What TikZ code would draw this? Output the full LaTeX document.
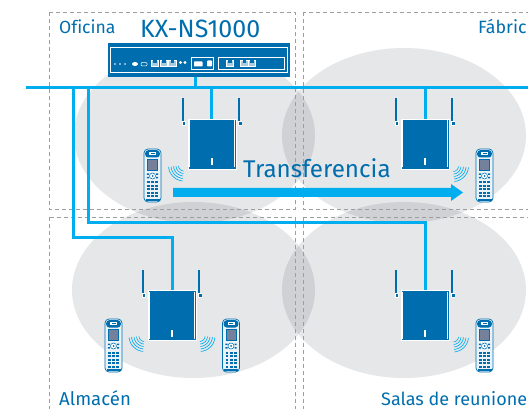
\documentclass[tikz,border=0pt]{standalone}
\usepackage{fontspec}
\setmainfont[RawFeature={-liga}]{Fira Sans}
\definecolor{cblue}{HTML}{006EAE}
\definecolor{csky}{HTML}{00AEEF}
\definecolor{cgrey}{HTML}{E6E7E9}
\definecolor{cdash}{HTML}{9C9EA0}
\definecolor{cscreen}{HTML}{75819B}
\tikzset{
  zone/.style={draw=cdash,line width=0.9pt,dash pattern=on 4pt off 3pt},
  cell/.style={fill=cgrey,blend mode=multiply},
  bus/.style={draw=csky,line width=3pt},
  wire/.style={draw=csky,line width=3pt},
  label/.style={text=cblue,inner sep=0pt,anchor=base west},
  apbox/.style={fill=cblue,draw=white,line width=0.7pt,minimum width=48pt,minimum height=50pt,inner sep=0pt},
  srv/.style={fill=cblue,minimum width=182pt,minimum height=34pt,inner sep=0pt},
  wl/.style={draw=white,line width=0.6pt},
  port/.style={draw=white,line width=0.5pt,fill=cblue!35!white},
  pics/antennas/.style={code={
    \fill[cblue] (-5.8,-21) rectangle (-4.2,2);
    \fill[cblue] (50.2,-21) rectangle (51.8,2);
    \fill[white] (-6.3,2) rectangle (-2,7);
    \fill[cblue] (-5.5,3) rectangle (-3,6);
    \fill[white] (50,2) rectangle (54.3,7);
    \fill[cblue] (51,3) rectangle (53.5,6);
    \draw[white,line width=0.6pt] (1.6,1) -- (1.6,48);
    \draw[white,line width=0.6pt] (46.4,1) -- (46.4,48);
    \fill[white] (23,39) rectangle (25,46);
  }},
  pics/phone/.style={code={
    \draw[cblue,line width=0.7pt,fill=cblue!8!white,rounded corners=4pt] (0,0) rectangle (17,53);
    \fill[cblue,rounded corners=3pt] (1.2,1.2) rectangle (15.8,8.5);
    \fill[white] (5,3) rectangle (12,6.3);
    \fill[cblue] (6.5,4) rectangle (10.5,5.3);
    \draw[cblue,line width=0.5pt,fill=cscreen] (3.5,10.5) rectangle (13.5,21);
    \draw[cblue,line width=0.5pt,fill=white] (8.5,27) circle (3pt);
    \fill[cblue] (8.5,27) circle (1pt);
    \fill[cblue] (2.8,24.5) rectangle (5,26) (12,24.5) rectangle (14.2,26) (2.8,28) rectangle (5,29.5) (12,28) rectangle (14.2,29.5);
    \foreach \ky in {32.5,36,39.5,43,46.5}
      \foreach \kx in {3,7.2,11.4}
        \fill[cblue] (\kx,\ky) rectangle ++(2.8,2);
    \fill[cblue] (1.5,50) rectangle (15.5,52);
  }},
  pics/waves/.style args={#1:#2}{code={
    \foreach \rr in {5.5,8,10.5,13,15.5}
      \draw[csky,line width=0.65pt] plot[domain=#1:#2,samples=12,smooth] ({\rr*cos(\t)},{\rr*sin(\t)});
  }},
}
\begin{document}
\begin{tikzpicture}[x=1pt,y=-1pt,variable=\t]
\useasboundingbox (0,0) rectangle (528,409);
\fill[white] (0,0) rectangle (528,409);
% coverage cells
\begin{scope}[transparency group]
\fill[cell] (194.5,135.5) ellipse [x radius=120.5pt,y radius=87.5pt];
\fill[cell] (404,135.5) ellipse [x radius=122pt,y radius=87.5pt];
\fill[cell] (193.5,290) ellipse [x radius=121.5pt,y radius=88pt];
\fill[cell] (404,290) ellipse [x radius=122pt,y radius=88pt];
\end{scope}
% zones
\draw[zone] (49,12) rectangle (295,209);
\draw[zone] (303,12) rectangle (545,209);
\draw[zone] (49,217) rectangle (295,425);
\draw[zone] (303,217) rectangle (545,425);
% labels
\node[label,font=\fontsize{17.6}{18}\selectfont] (oficina) at (59,34) {Oficina};
\node[label,font=\fontsize{25}{25}\selectfont] (model) at (140,38) {KX-NS1000};
\node[label,font=\fontsize{17.8}{18}\selectfont] (fabrica) at (478,34) {Fábric};
\node[label,font=\fontsize{18.6}{19}\selectfont] (almacen) at (59,405) {Almacén};
\node[label,font=\fontsize{18}{18}\selectfont] (salas) at (381,405) {Salas de reunione};
% devices
\node[srv] (server) at (199,60) {};
\node[apbox] (ap1) at (212,144) {};
\node[apbox] (ap2) at (425,144) {};
\node[apbox] (ap3) at (172,315.5) {};
\node[apbox] (ap4) at (425,315.5) {};
% connectors
\coordinate (busL) at (26,88);
\coordinate (busR) at (528,88);
\coordinate (j1) at (73,88);
\coordinate (j2) at (88,88);
\draw[bus] (busL) -- (busR);
\draw[wire] (server.south -| 195,0) -- (195,88);
\draw[wire] (ap1.north -| 211,0) -- (211,88);
\draw[wire] (ap2.north) -- (ap2.north |- busL);
\draw[wire] (j1) -- (73,238) -| (ap3.north);
\draw[wire] (j2) -- (88,223) -| (ap4.north);
% server detail
\draw[wl] (110.5,47.5) rectangle (287,72.5);
\foreach \sx in {115,120,125} \fill[white] (\sx,64) circle (0.9pt);
\fill[white] (135,64) ellipse [x radius=3pt,y radius=2pt];
\draw[white,line width=0.5pt,rounded corners=1pt] (141,62.5) rectangle (147,66);
\foreach \sx in {151,160,168.5} {\draw[port] (\sx,60) rectangle ++(7.5,6.5); \fill[cblue] (\sx+2,60.5) rectangle ++(3.5,2.5);}
\foreach \sx in {180.5,185} \fill[white] (\sx,62.5) circle (1.6pt);
\draw[wl] (191.5,57.5) rectangle (213,69);
\fill[white,rounded corners=0.6pt] (194,61.5) rectangle (202.5,66.5);
\fill[white,rounded corners=0.8pt] (207,60.5) rectangle (212,66.5);
\draw[wl] (218.5,57.5) rectangle (284.5,69);
\foreach \sx in {226,240.5,248} {\draw[port] (\sx,60) rectangle ++(7.5,6.5); \fill[cblue] (\sx+2,60.5) rectangle ++(3.5,2.5);}
% AP detail
\pic at (188,119) {antennas};
\pic at (401,119) {antennas};
\pic at (148,290.5) {antennas};
\pic at (401,290.5) {antennas};
% phones
\pic at (144,149) {phone};
\pic at (476,149) {phone};
\pic at (105,319) {phone};
\pic at (222.5,319) {phone};
\pic at (476,319) {phone};
% waves
\pic at (184,165.5) {waves={95:175}};
\pic at (453,166) {waves={5:85}};
\pic at (144.5,336) {waves={95:175}};
\pic at (199.5,336) {waves={5:85}};
\pic at (453,336.5) {waves={5:85}};
% transfer
\node[label,font=\fontsize{24.2}{25}\selectfont] (transfer) at (243,177.5) {Transferencia};
\coordinate (arrS) at (173,192.5);
\coordinate (arrE) at (463,192.5);
\fill[csky] (arrS) ++(0,-4.5) -- (451,188) -- (451,184) -- (arrE) -- (451,201) -- (451,197) -- (173,197) -- cycle;
\end{tikzpicture}
\end{document}
